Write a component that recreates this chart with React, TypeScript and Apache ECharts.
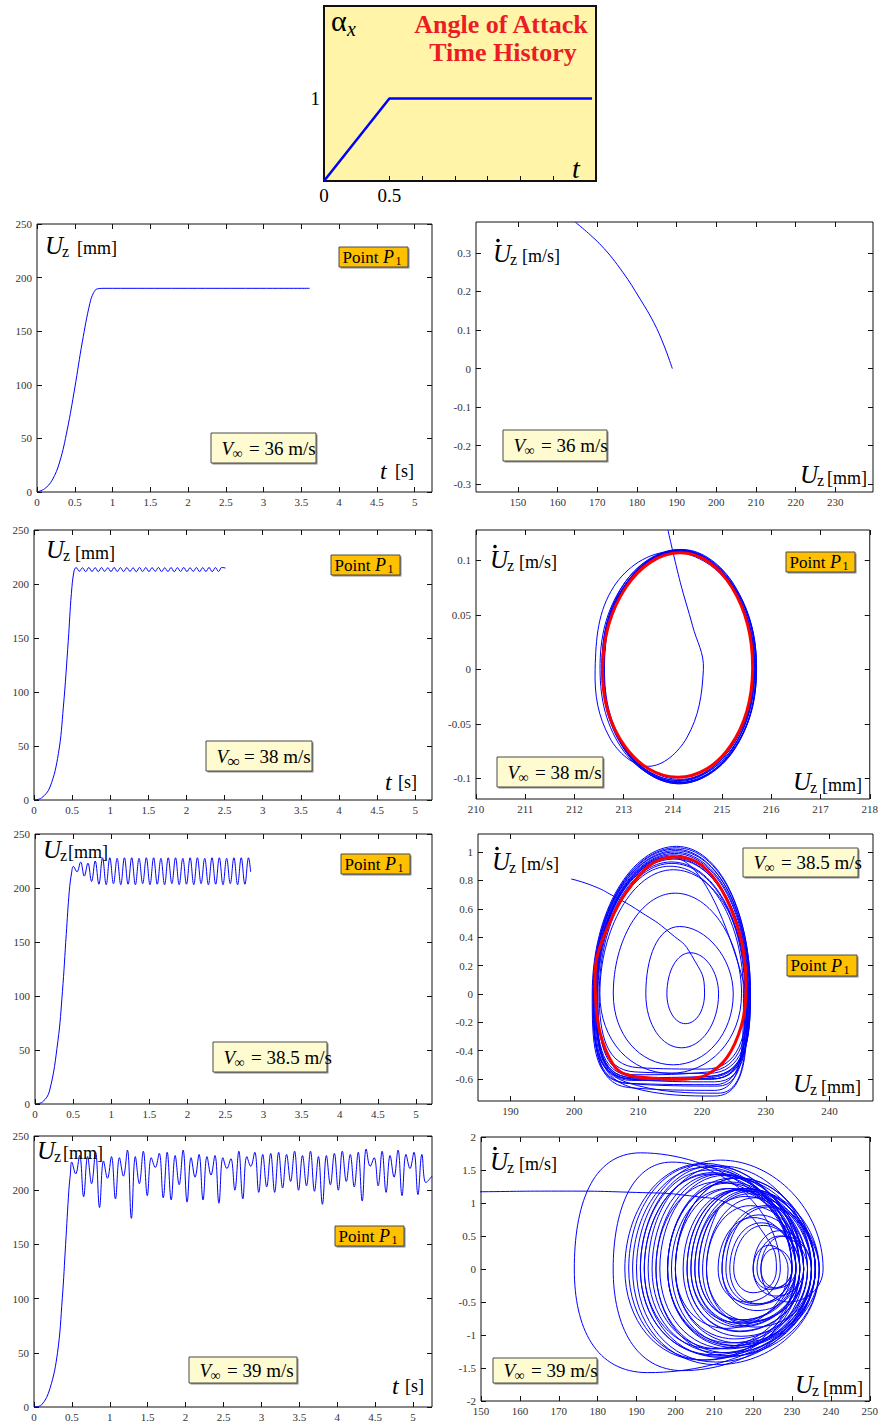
import React, { useEffect, useRef } from 'react';
import * as echarts from 'echarts';

const FONT = '"Liberation Serif", "Times New Roman", Times, serif';
const BLUE = '#0000ff';
const RED = '#ff0000';

// ---------------- inset: angle of attack time history ----------------
const alphaHistory = [[0, 0], [0.5, 1], [2.05, 1]];
const alphaXLabels = [0, 0.5];
const alphaXTicks = [0.5, 0.75, 1, 1.25, 1.5, 1.75];
const alphaYLabels = [1];

// ---------------- tick labels ----------------
const timeTicks = [0, 0.5, 1, 1.5, 2, 2.5, 3, 3.5, 4, 4.5, 5];
const uzTicks = [0, 50, 100, 150, 200, 250];
const ph36XTicks = [150, 160, 170, 180, 190, 200, 210, 220, 230];
const ph36YTicks = [-0.3, -0.2, -0.1, 0, 0.1, 0.2, 0.3];
const ph38XTicks = [210, 211, 212, 213, 214, 215, 216, 217, 218];
const ph38YTicks = [-0.1, -0.05, 0, 0.05, 0.1];
const ph385XTicks = [190, 200, 210, 220, 230, 240];
const ph385YTicks = [-0.6, -0.4, -0.2, 0, 0.2, 0.4, 0.6, 0.8, 1];
const ph39XTicks = [150, 160, 170, 180, 190, 200, 210, 220, 230, 240, 250];
const ph39YTicks = [-2, -1.5, -1, -0.5, 0, 0.5, 1, 1.5, 2];

// ---------------- V = 36 m/s ----------------
const time36 = [[0, 0], [0.1, 3], [0.2, 11], [0.3, 28], [0.4, 58], [0.5, 97], [0.6, 140], [0.7, 176], [0.75, 186], [0.8, 189.5], [0.9, 190], [3.61, 190]];
const phase36 = [[164.4, 0.38], [170.9, 0.32], [176.4, 0.25], [180.8, 0.18], [184.2, 0.12], [186.8, 0.06], [188.9, 0]];

// ---------------- V = 38 m/s ----------------
const rise38 = [[0, 0], [0.1, 2], [0.21, 12], [0.32, 43], [0.385, 86], [0.45, 148], [0.49, 191], [0.525, 212]];
const osc38Start = 0.553;
const osc38Step = 0.0415;
const osc38 = [
  215.2, 211.8, 215.0, 211.5, 215.3, 211.6, 215.1, 211.4, 215.2, 211.7,
  215.0, 211.5, 215.3, 211.6, 215.1, 211.5, 215.2, 211.7, 215.0, 211.4,
  215.3, 211.6, 215.2, 211.5, 215.1, 211.7, 215.3, 211.5, 215.0, 211.6,
  215.2, 211.4, 215.1, 211.6, 215.3, 211.5, 215.0, 211.7, 215.2, 211.5,
  215.1, 211.6, 215.3, 211.4, 215.2, 211.6, 215.3,
];
const end38 = [2.51, 214.8];
const phase38Blue = [
  [213.9, 0.128], [214.15, 0.08], [214.4, 0.04], [214.62, 0], [214.28, -0.063], [213.5, -0.089], [212.72, -0.063], [212.42, 0],
  [212.8, 0.076], [213.95, 0.108], [215.15, 0.078], [215.64, 0], [215.2, -0.074], [214.15, -0.104], [213.0, -0.075], [212.52, 0],
  [212.98, 0.077], [214.1, 0.109], [215.22, 0.077], [215.68, 0], [215.23, -0.075], [214.12, -0.105], [213.02, -0.074], [212.56, 0],
  [213.0, 0.078], [214.12, 0.11], [215.2, 0.077], [215.66, 0], [215.2, -0.073], [214.1, -0.103], [213.02, -0.073], [212.6, 0],
  [213.03, 0.077], [214.15, 0.109], [215.24, 0.076], [215.7, 0], [215.22, -0.074], [214.15, -0.104], [213.05, -0.074], [212.56, 0],
  [213.0, 0.076], [214.2, 0.108], [215.2, 0.077], [215.65, 0], [215.18, -0.072], [214.1, -0.102], [213.02, -0.072], [212.6, 0],
  [213.04, 0.078], [214.15, 0.11], [215.23, 0.078], [215.69, 0], [215.22, -0.075], [214.12, -0.105], [213.04, -0.075], [212.58, 0],
  [213.02, 0.077], [214.1, 0.109], [215.19, 0.077], [215.64, 0], [215.18, -0.072], [214.15, -0.101], [213.05, -0.072], [212.61, 0],
  [213.05, 0.078], [214.2, 0.11], [215.24, 0.078], [215.7, 0], [215.23, -0.074], [214.1, -0.104], [213.03, -0.074], [212.57, 0],
  [213.01, 0.076], [214.15, 0.108], [215.21, 0.076], [215.66, 0], [215.2, -0.073], [214.12, -0.102], [213.02, -0.073], [212.6, 0],
  [213.03, 0.077], [214.2, 0.109], [215.22, 0.077], [215.68, 0],
];
const phase38Red = [[212.57, 0], [214.15, 0.107], [215.62, 0], [214.1, -0.099]];

// ---------------- V = 38.5 m/s ----------------
const rise385 = [[0, 0], [0.1, 2], [0.19, 12], [0.3, 58], [0.36, 104], [0.41, 157], [0.45, 197], [0.48, 214]];
const osc385Start = 0.503;
const osc385Step = 0.0479;
const osc385 = [
  220, 215, 224, 211, 223, 206, 225, 203.5, 228, 203,
  228, 204, 227.5, 203, 228, 203.5, 228, 203, 227.5, 204,
  228, 203, 228, 203.5, 227.5, 203, 228, 204, 228, 203,
  227.5, 203.5, 228, 203, 228, 204, 227.5, 203, 228, 203.5,
  228, 203, 227.5, 204, 228, 203, 228, 203.5, 228,
];
const end385 = [2.83, 215];
const phase385Blue = [
  [199.5, 0.81], [203, 0.76], [206.1, 0.69], [210.3, 0.58], [215, 0.43], [218.4, 0.27], [220.4, 0],
  [217.4, -0.21], [214.5, 0], [218.2, 0.29], [222.6, 0], [216.8, -0.38], [211.2, 0], [216.5, 0.475],
  [224.9, 0], [215.5, -0.5], [206.1, 0], [215.8, 0.71], [226.2, 0], [215, -0.56], [204, 0], [215.5, 0.875], [227, 0],
  [221.5, -0.6], [209, -0.59], [203.3, 0], [215.4, 0.97], [227.2, 0],
  [222, -0.62], [208.5, -0.6], [203.0, 0], [215.8, 1.02], [227.5, 0],
  [221, -0.56], [209.5, -0.55], [203.6, 0], [215.2, 0.93], [226.8, 0],
  [222.5, -0.65], [208, -0.63], [202.8, 0], [216, 1.04], [227.6, 0],
  [221.5, -0.58], [209, -0.6], [203.4, 0], [215.5, 0.98], [227.1, 0],
  [220.5, -0.53], [210, -0.52], [203.9, 0], [215, 0.9], [226.5, 0],
  [222, -0.68], [208.5, -0.66], [203.1, 0], [215.7, 1.0], [227.4, 0],
  [221.5, -0.6], [209, -0.58], [203.5, 0], [215.4, 0.96], [227.0, 0],
  [222.5, -0.7], [208, -0.62], [202.9, 0], [216, 1.03], [227.6, 0],
  [221.5, -0.59], [209, -0.61], [203.3, 0], [215.6, 0.95], [227.2, 0],
  [221, -0.55], [209.5, -0.57], [203.7, 0], [215.3, 0.92], [226.7, 0],
  [222, -0.64], [208.5, -0.63], [203.0, 0], [215.9, 1.01], [227.5, 0],
  [221.5, -0.6], [209, -0.6], [203.4, 0], [215.5, 0.97], [227.1, 0],
  [222, -0.72], [209, -0.66], [203.2, 0], [215.7, 0.99], [227.3, 0],
  [221.5, -0.58], [209, -0.59], [203.5, 0], [215.4, 0.96], [227.0, 0],
];
const phase385Red = [
  [203.3, 0], [203.5, 0.25], [205.6, 0.51], [208.2, 0.72], [211.9, 0.91], [215.5, 0.965], [219.2, 0.93],
  [222.3, 0.79], [224.9, 0.56], [226.5, 0.3], [226.9, 0.016], [226.2, -0.22], [223.9, -0.45], [220.75, -0.57],
  [217.6, -0.6], [212.9, -0.595], [208.2, -0.57], [206.1, -0.5], [204.0, -0.27],
];

// ---------------- V = 39 m/s ----------------
const rise39 = [[0, 0], [0.1, 2], [0.21, 17], [0.31, 50], [0.373, 100], [0.417, 150], [0.46, 200], [0.48, 215]];
const ext39Start = 0.497;
const ext39Step = 0.0525;
const ext39 = [
  226, 215, 232, 194, 231, 206, 235, 184, 227, 211,
  231, 192, 230, 213, 237, 174, 231, 206, 236, 195,
  230, 221, 234, 193, 235, 191, 232, 205, 237, 189,
  230, 212, 233, 191, 231, 214, 232, 188, 230, 220,
  229, 200, 236, 192, 231, 222, 235, 198, 233, 203,
  234, 198, 235, 202, 233, 208, 236, 200, 232, 204,
  236, 199, 231, 187, 232, 205, 234, 200, 236, 208,
  233, 203, 235, 190, 238, 222, 230, 204, 236, 198,
  232, 212, 237, 195, 233, 220, 235, 196, 233, 207,
];
const end39 = [5.25, 213];
const phase39Entry = [[140, 1.16], [150, 1.17], [170, 1.18], [190, 1.16], [205, 1.1], [215, 0.95], [222, 0.6], [226, 0]];
const phase39Swing = [
  [220.0, -0.36], [222.7, 0.66], [211.1, -1.21], [210.7, 1.44], [217.3, -0.77], [219.1, 1.14], [201.9, -1.54], [199.1, 1.62], [218.2, -0.5], [220.0, 0.78],
  [209.6, -1.21], [209.1, 1.44], [220.7, -0.53], [223.8, 0.94], [192.9, -1.57], [191.1, 1.76], [217.3, -0.77], [219.5, 1.18], [213.5, -1.27], [210.8, 1.32],
  [225.1, -0.29], [226.9, 0.5], [211.5, -1.27], [211.9, 1.56], [210.8, -1.32], [209.5, 1.56], [217.2, -0.83], [219.4, 1.2], [210.6, -1.45], [207.5, 1.54],
  [220.1, -0.55], [221.5, 0.82], [209.9, -1.3], [209.0, 1.5], [221.7, -0.53], [222.1, 0.7], [207.8, -1.38], [206.9, 1.58], [224.5, -0.31], [224.1, 0.36],
  [213.1, -0.9], [216.2, 1.38], [211.8, -1.34], [209.6, 1.46], [226.1, -0.29], [227.9, 0.5], [214.7, -1.16], [213.8, 1.32], [216.5, -0.94], [217.0, 1.2],
  [214.2, -1.12], [214.7, 1.38], [216.9, -1.02], [216.0, 1.2], [219.3, -0.79], [220.6, 1.08], [216.2, -1.12], [214.4, 1.22], [216.6, -0.88], [218.4, 1.22],
  [215.7, -1.16], [213.4, 1.22], [206.8, -1.38], [207.3, 1.6], [217.2, -0.86], [218.1, 1.1], [215.3, -1.06], [216.2, 1.38], [220.6, -0.88], [219.3, 0.96],
  [216.5, -0.95], [217.4, 1.22], [210.3, -1.41], [211.6, 1.65], [229.2, -0.5], [225.6, 0.31], [215.7, -0.81], [218.4, 1.22], [215.1, -1.19], [213.3, 1.3],
  [221.0, -0.63], [223.3, 0.96], [213.9, -1.32], [212.1, 1.44], [225.9, -0.41], [226.8, 0.58], [213.6, -1.21], [212.7, 1.42], [218.7, -0.81],
];
const phase39End = [211, 0.9];

// ---------------- layout (pixels) ----------------
const GRIDS = [
  [324, 6, 272, 175],
  [37, 224, 395, 268],
  [476, 222, 397, 270],
  [34, 530, 398, 270],
  [476, 530, 396, 269],
  [35, 834, 397, 270],
  [478, 834, 395, 267],
  [34, 1136, 398, 271],
  [481, 1137, 389, 264],
];

const AXES: any[] = [
  { x: [0, 2.08], y: [0, 2.12], xl: alphaXLabels, xt: alphaXTicks, yl: alphaYLabels, yt: [] },
  { x: [0, 5.23], y: [0, 250], xl: timeTicks, yl: uzTicks },
  { x: [139.4, 239.5], y: [-0.32, 0.38], xl: ph36XTicks, yl: ph36YTicks },
  { x: [0, 5.22], y: [0, 250], xl: timeTicks, yl: uzTicks },
  { x: [210, 218], y: [-0.119, 0.128], xl: ph38XTicks, yl: ph38YTicks },
  { x: [0, 5.21], y: [0, 250], xl: timeTicks, yl: uzTicks },
  { x: [184.9, 246.8], y: [-0.755, 1.127], xl: ph385XTicks, yl: ph385YTicks },
  { x: [0, 5.25], y: [0, 250], xl: timeTicks, yl: uzTicks },
  { x: [150, 250], y: [-2, 2], xl: ph39XTicks, yl: ph39YTicks },
];

function buildAxes() {
  const xAxis: any[] = [];
  const yAxis: any[] = [];
  AXES.forEach((a, gi) => {
    const inset = gi === 0;
    const lab = inset
      ? { fontFamily: FONT, fontSize: 19, color: '#000' }
      : { fontFamily: FONT, fontSize: 11, color: '#333' };
    const tick = (vals: number[], show: boolean) => ({
      show: show && vals.length > 0,
      inside: true,
      length: 5,
      lineStyle: { color: '#111', width: 1 },
      customValues: vals,
    });
    const common = {
      type: 'value',
      gridIndex: gi,
      axisLine: { show: false, onZero: false },
      splitLine: { show: false },
    };
    const xt = a.xt || a.xl;
    const yt = a.yt || a.yl;
    xAxis.push({
      ...common, min: a.x[0], max: a.x[1], position: 'bottom',
      axisTick: tick(xt, true),
      axisLabel: { show: true, customValues: a.xl, formatter: (v: number) => String(v), margin: inset ? 5 : 4, ...lab },
    });
    xAxis.push({
      ...common, min: a.x[0], max: a.x[1], position: 'top',
      axisTick: tick(xt, !inset), axisLabel: { show: false },
    });
    yAxis.push({
      ...common, min: a.y[0], max: a.y[1], position: 'left',
      axisTick: tick(yt, true),
      axisLabel: { show: true, customValues: a.yl, formatter: (v: number) => String(v), margin: inset ? 4 : 5, ...lab },
    });
    yAxis.push({
      ...common, min: a.y[0], max: a.y[1], position: 'right',
      axisTick: tick(yt, !inset), axisLabel: { show: false },
    });
  });
  return { xAxis, yAxis };
}

function lineSeries(gi: number, data: any[], smooth: number, color = BLUE, width = 1) {
  return {
    type: 'line', xAxisIndex: 2 * gi, yAxisIndex: 2 * gi, data,
    symbol: 'none', showSymbol: false, smooth,
    lineStyle: { color, width }, itemStyle: { color },
    silent: true, clip: true, z: 3,
  };
}

// free-form smooth trajectory (no monotone clamping) drawn through the axes' scales
function curveSeries(gi: number, pts: number[][], smooth: number, closed = false, color = BLUE, width = 1, z = 3) {
  return {
    type: 'custom', xAxisIndex: 2 * gi, yAxisIndex: 2 * gi, data: [pts[0]], silent: true, z, clip: true,
    renderItem: (_p: any, api: any) => ({
      type: closed ? 'polygon' : 'polyline',
      shape: { points: pts.map((p) => api.coord(p)), smooth },
      style: { fill: 'none', stroke: color, lineWidth: width },
    }),
  };
}

// ---------------- text helpers ----------------
function T(x: number, y: number, text: string, size: number, o: any = {}) {
  return {
    type: 'text', x, y, z: 100, silent: true,
    style: {
      text, fontFamily: FONT, fontSize: size,
      fontStyle: o.italic ? 'italic' : 'normal',
      fontWeight: o.bold ? 'bold' : 'normal',
      fill: o.color || '#000',
      align: o.align || 'left', textAlign: o.align || 'left',
      verticalAlign: 'middle', textVerticalAlign: 'middle',
    },
  };
}
function uz(x: number, yc: number, mmDx: number) {
  return [T(x, yc, 'U', 25, { italic: true }), T(x + 17, yc + 6, 'z', 16), T(x + mmDx, yc + 3, '[mm]', 18)];
}
function udot(x: number, yc: number) {
  return [
    { type: 'circle', z: 100, silent: true, shape: { cx: x + 5, cy: yc - 13, r: 1.8 }, style: { fill: '#000' } },
    T(x, yc, 'U', 25, { italic: true }), T(x + 17, yc + 6, 'z', 16), T(x + 29, yc + 2, '[m/s]', 18),
  ];
}
function tLabel(x: number, yc: number, sDx: number) {
  return [T(x, yc, 't', 24, { italic: true }), T(x + sDx, yc, '[s]', 18)];
}
function boxRects(x: number, y: number, w: number, h: number, fill: string) {
  return [
    { type: 'rect', z: 98, silent: true, shape: { x: x + 1.5, y: y + 1.5, width: w, height: h }, style: { fill: '#8a8a8a' } },
    { type: 'rect', z: 99, silent: true, shape: { x, y, width: w, height: h }, style: { fill, stroke: '#4a4a4a', lineWidth: 1 } },
  ];
}
function pointBox(x: number, y: number, w: number, h: number) {
  const cy = y + h / 2;
  return [
    ...boxRects(x, y, w, h, '#ffc000'),
    T(x + 3.5, cy, 'Point', 17), T(x + 44, cy, 'P', 18, { italic: true }), T(x + 56.5, cy + 4, '1', 12),
  ];
}
function vBox(x: number, y: number, w: number, h: number, speed: string, boldInf = false) {
  const cy = y + h / 2;
  return [
    ...boxRects(x, y, w, h, '#fffbd0'),
    T(x + 10.5, cy, 'V', 19, { italic: true }),
    T(x + 21.5, cy + 5, '\u221e', boldInf ? 17 : 14, { bold: boldInf }),
    T(x + 38, cy, '= ' + speed + ' m/s', 19),
  ];
}

function buildGraphics() {
  const red = '#ec1c24';
  return [
    // inset
    T(331, 20, '\u03b1', 30), T(347, 29, 'x', 20, { italic: true }),
    T(501, 24, 'Angle of Attack', 26, { bold: true, color: red, align: 'center' }),
    T(503, 52, 'Time History', 26, { bold: true, color: red, align: 'center' }),
    T(572, 168, 't', 28, { italic: true }),
    // row 1
    ...uz(45, 245, 32), ...pointBox(339, 247, 69, 20), ...vBox(211, 433, 105, 30, '36'), ...tLabel(380, 471, 15),
    ...udot(493, 253.5), ...vBox(503, 430, 104, 31, '36'), ...uz(800, 474.5, 27),
    // row 2
    ...uz(46, 549.5, 29), ...pointBox(331, 555, 69, 20), ...vBox(206, 741, 106, 30, '38', true), ...tLabel(385, 781.5, 13),
    ...udot(490, 559.5), ...pointBox(786, 552, 69, 20), ...vBox(497, 757, 106, 30, '38'), ...uz(793, 781.5, 29),
    // row 3
    ...uz(43, 849, 25), ...pointBox(341, 854, 69, 20), ...vBox(213, 1042, 114, 30, '38.5'),
    ...udot(492, 861.5), ...vBox(743, 848, 115, 29, '38.5'), ...pointBox(787, 955, 70, 21), ...uz(793, 1083.5, 28),
    // row 4
    ...uz(37, 1150, 26), ...pointBox(335, 1226, 69, 20), ...vBox(189, 1357, 108, 26, '39'), ...tLabel(392, 1386, 13),
    ...udot(490, 1161.5), ...vBox(493, 1358, 104, 25, '39'), ...uz(795, 1384.5, 28),
  ];
}

function buildOption() {
  const { xAxis, yAxis } = buildAxes();
  const grid = GRIDS.map(([l, t, w, h], i) => ({
    left: l, top: t, width: w, height: h, show: true, containLabel: false,
    borderColor: '#111', borderWidth: i === 0 ? 2 : 1,
    backgroundColor: i === 0 ? '#fff4a8' : 'transparent',
  }));

  const time38 = [...rise38, ...osc38.map((u, i) => [osc38Start + i * osc38Step, u]), end38];
  const time385 = [...rise385, ...osc385.map((u, i) => [osc385Start + i * osc385Step, u]), end385];
  const time39 = [...rise39, ...ext39.map((u, i) => [ext39Start + i * ext39Step, u]), end39];
  const phase39: number[][] = [...phase39Entry];
  ext39.forEach((u, i) => {
    if (i === 0) return;
    phase39.push(phase39Swing[i - 1]);
    phase39.push([u, 0]);
  });
  phase39.push(phase39End);

  const series = [
    lineSeries(0, alphaHistory, 0, BLUE, 2.5),
    lineSeries(1, time36, 0.4),
    curveSeries(2, phase36, 0.4),
    lineSeries(3, time38, 0.4),
    curveSeries(4, phase38Blue, 0.38),
    curveSeries(4, phase38Red, 0.55, true, RED, 3, 5),
    lineSeries(5, time385, 0.4),
    lineSeries(6, phase385Blue, 0.55),
    curveSeries(6, phase385Red, 0.35, true, RED, 3, 5),
    lineSeries(7, time39, 0.4),
    lineSeries(8, phase39, 0.55),
  ];

  return {
    animation: false,
    backgroundColor: '#ffffff',
    grid, xAxis, yAxis, series,
    graphic: { elements: buildGraphics() },
  };
}

export default function App() {
  const ref = useRef<HTMLDivElement>(null);
  useEffect(() => {
    const chart = echarts.init(ref.current as HTMLDivElement, null, { renderer: 'svg' });
    chart.setOption(buildOption() as any);
    return () => chart.dispose();
  }, []);
  return (
    <div
      ref={ref}
      style={{ position: 'absolute', left: 0, top: 0, width: 881, height: 1423, background: '#fff' }}
    />
  );
}
